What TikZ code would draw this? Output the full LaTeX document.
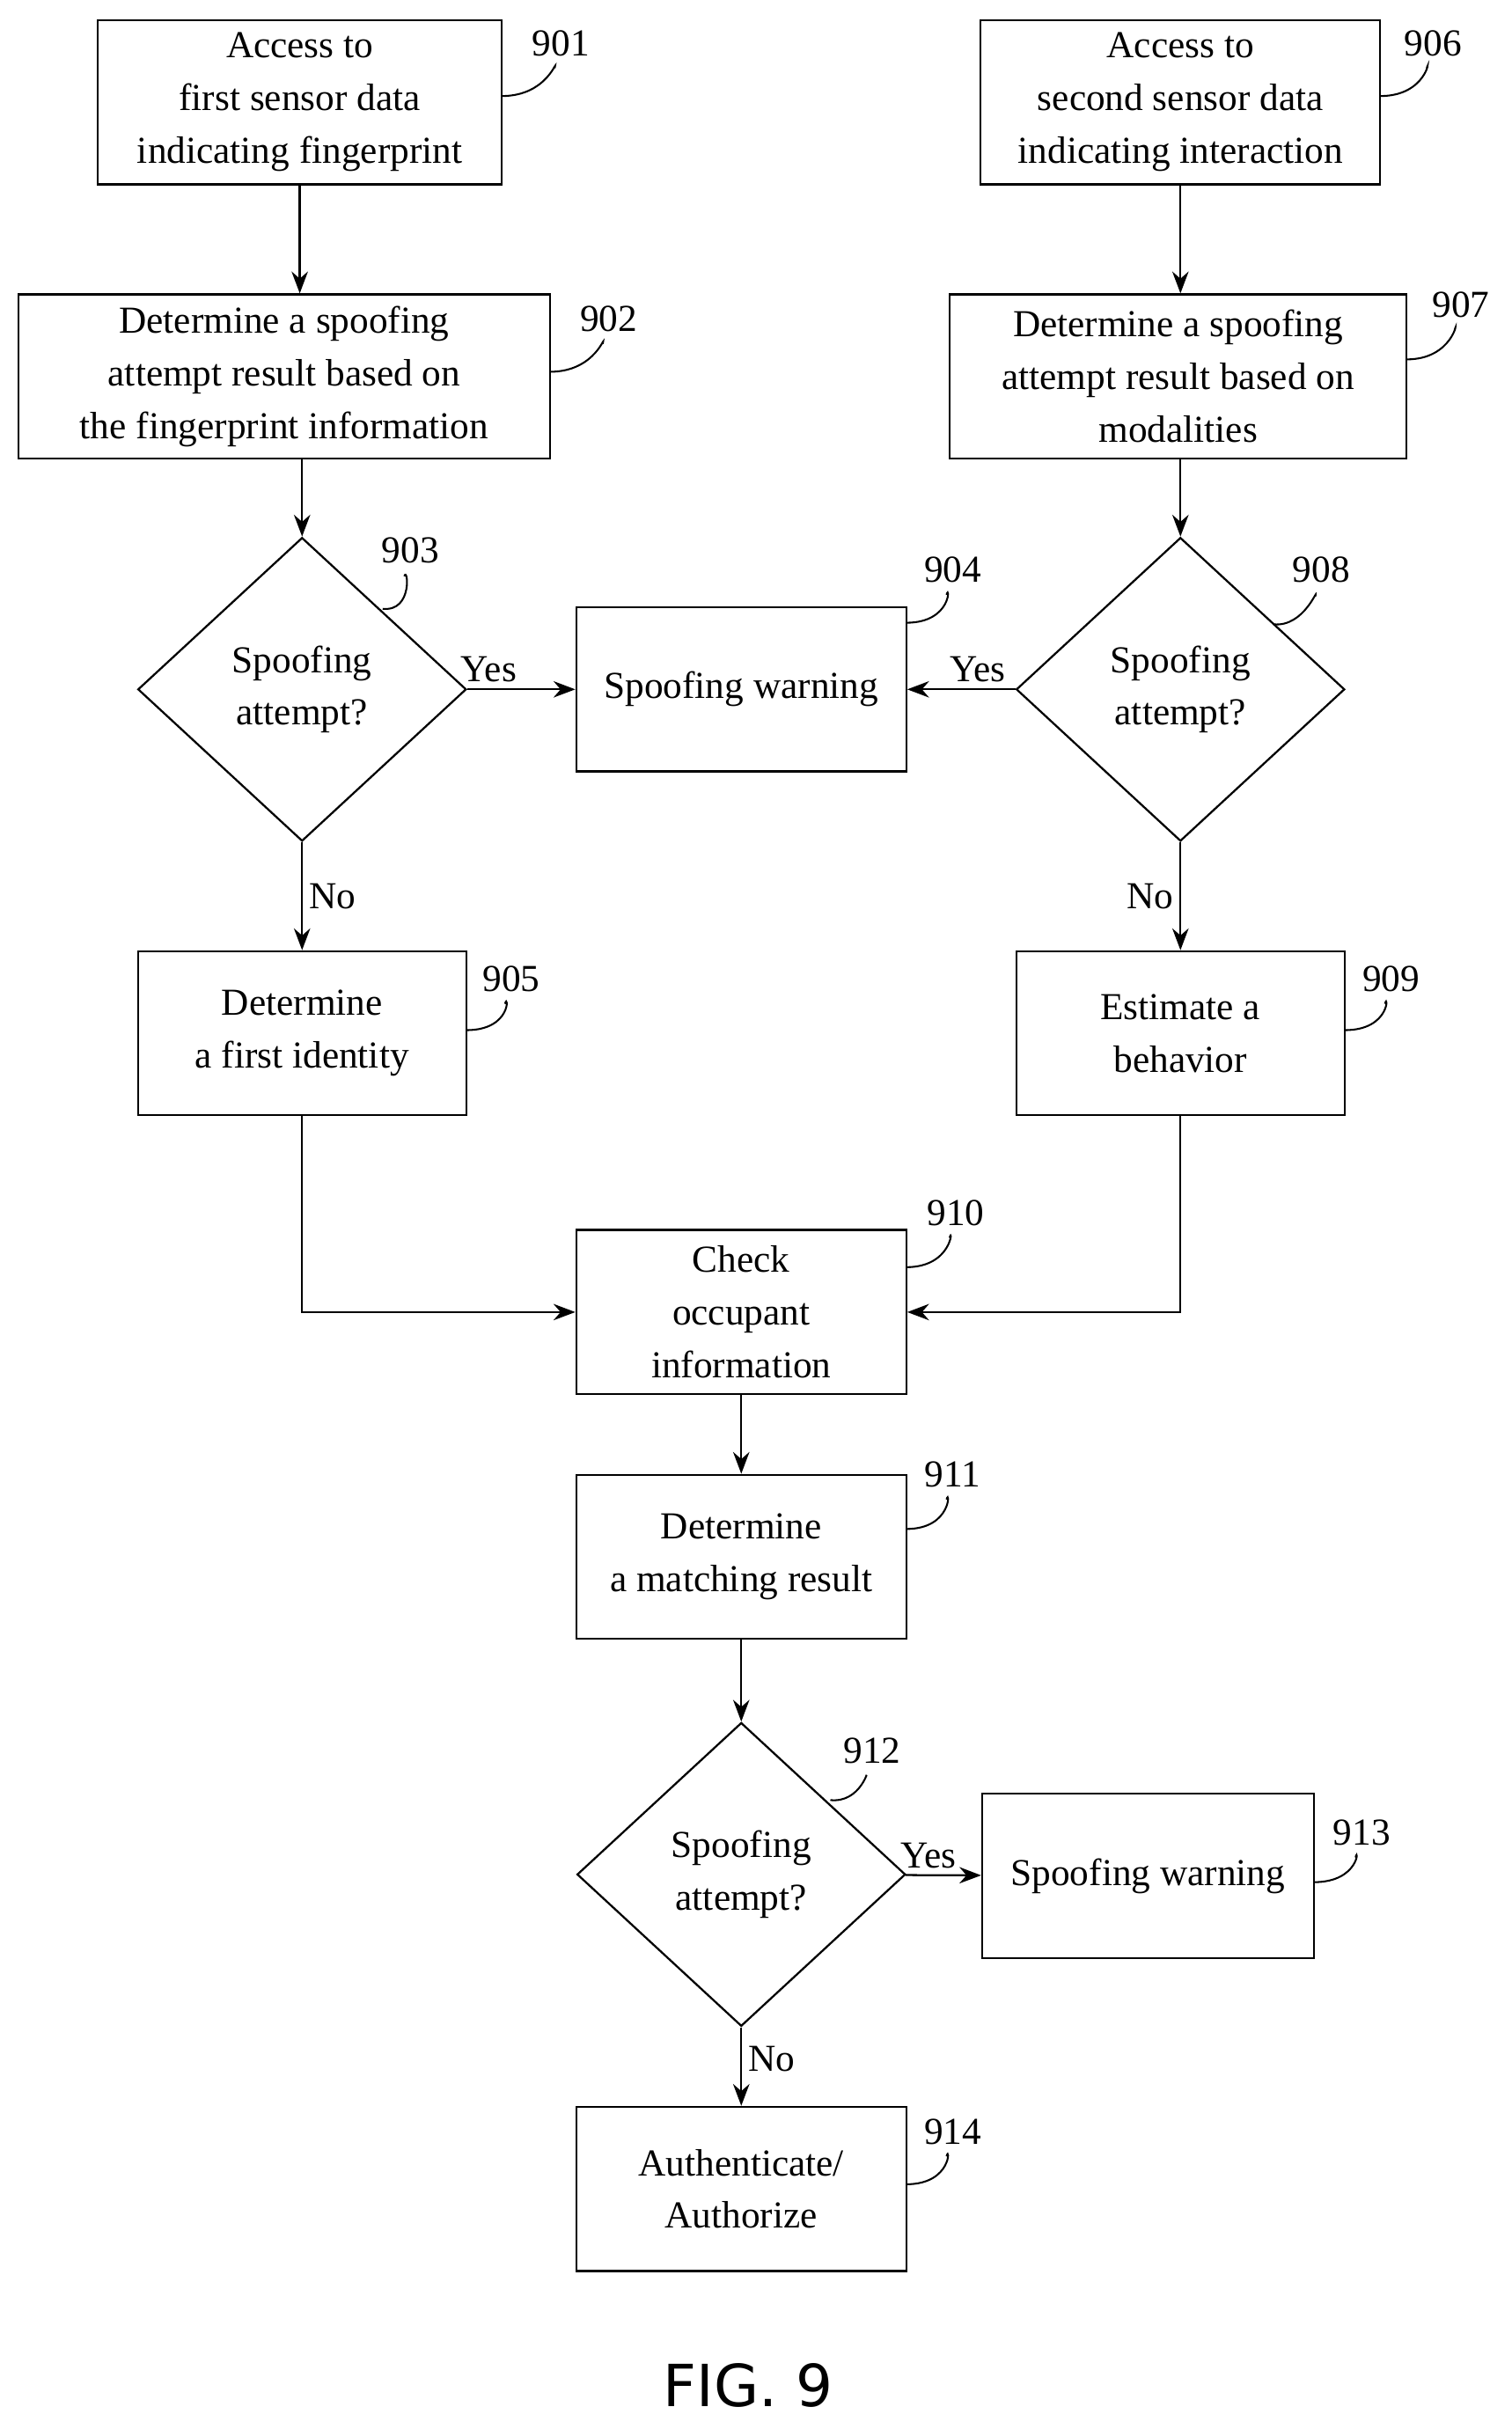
\documentclass[tikz,border=0pt]{standalone}
\usepackage{fontspec}
\setmainfont{Liberation Serif}
\setsansfont{DejaVu Sans}
\usetikzlibrary{shapes.geometric,arrows.meta}
\begin{document}
\begin{tikzpicture}[x=0.03cm,y=-0.03cm,
  box/.style = {shape=rectangle, draw, line width=1.1pt, align=center,
    minimum height=106*0.03cm, inner sep=2pt,
    font=\fontsize{21}{29}\selectfont},
  dec/.style = {shape=diamond, draw, line width=1.1pt, align=center,
    minimum width=212*0.03cm, minimum height=196*0.03cm, aspect=1.08, inner sep=0pt,
    font=\fontsize{21}{29}\selectfont},
  lbl/.style = {font=\fontsize{21}{25}\selectfont},
  flow/.style = {line width=1.1pt, -{Stealth[length=12pt,width=9pt]}},
  lead/.style = {line width=1pt}]
  \useasboundingbox (0,0) rectangle (976,1568);
  % left column
  \node[box, minimum width=261*0.03cm] (s1) at (193.5,66) {Access to\\first sensor data\\indicating fingerprint};
  \node[box, minimum width=343*0.03cm] (d1) at (183.5,243) {Determine a spoofing\\attempt result based on\\the fingerprint information};
  \node[dec] (q1) at (195,445) {Spoofing\\attempt?};
  \node[box, minimum width=212*0.03cm] (id) at (195,667) {Determine\\a first identity};
  % right column
  \node[box, minimum width=258*0.03cm] (s2) at (762,66) {Access to\\second sensor data\\indicating interaction};
  \node[box, minimum width=295*0.03cm] (d2) at (760.5,243) {Determine a spoofing\\attempt result based on\\modalities};
  \node[dec] (q2) at (762,445) {Spoofing\\attempt?};
  \node[box, minimum width=212*0.03cm] (bh) at (762,667) {Estimate a\\behavior};
  % middle column
  \node[box, minimum width=213*0.03cm] (w1) at (478.5,445) {Spoofing warning};
  \node[box, minimum width=213*0.03cm] (chk) at (478.5,847) {Check\\occupant\\information};
  \node[box, minimum width=213*0.03cm] (mt) at (478.5,1005) {Determine\\a matching result};
  \node[dec] (q3) at (478.5,1210) {Spoofing\\attempt?};
  \node[box, minimum width=214*0.03cm] (w2) at (741,1211) {Spoofing warning};
  \node[box, minimum width=213*0.03cm] (auth) at (478.5,1413) {Authenticate/\\Authorize};
  % connectors
  \draw[flow] (s1) -- (d1.north -| s1);
  \draw[flow] (d1.south -| q1) -- (q1);
  \draw[flow] (q1) -- node[lbl, above, pos=0.2] {Yes} (w1);
  \draw[flow] (q1) -- node[lbl, right, pos=0.5] {No} (id);
  \draw[flow] (s2) -- (d2.north -| s2);
  \draw[flow] (d2.south -| q2) -- (q2);
  \draw[flow] (q2) -- node[lbl, above, pos=0.35] {Yes} (w1);
  \draw[flow] (q2) -- node[lbl, left, pos=0.5] {No} (bh);
  \draw[flow] (id) |- (chk);
  \draw[flow] (bh) |- (chk);
  \draw[flow] (chk) -- (mt);
  \draw[flow] (mt) -- (q3);
  \draw[flow] (q3) -- node[lbl, above, pos=0.3] {Yes} (w2);
  \draw[flow] (q3) -- node[lbl, right, pos=0.4] {No} (auth);
  % reference numerals
  \foreach \n/\bx/\by/\lx/\ly in {901/324/62/362/28, 902/355/240/393/206, 906/891/62/925/28,
      907/908/232/943/197, 904/585/402/615/368, 905/301/665/330/632, 909/868/665/898/632,
      910/585/818/617/783, 911/585/987/615/952, 913/848/1215/879/1183, 914/585/1410/615/1376}{
    \node[lbl] (n\n) at (\lx,\ly) {\n};
    \draw[lead] (\bx,\by) .. controls (\bx+30,\by) and (\lx-2,\ly+8) .. (\lx-4,\ly+16);
  }
  \foreach \n/\bx/\by/\lx/\ly in {903/247/393/265/355, 908/822/403/853/368, 912/536/1162/563/1130}{
    \node[lbl] (n\n) at (\lx,\ly) {\n};
    \draw[lead] (\bx,\by) .. controls (\bx+20,\by+2) and (\lx-2,\ly+10) .. (\lx-4,\ly+17);
  }
  \node[font=\sffamily\fontsize{32}{38}\selectfont] (fig) at (483,1540) {FIG. 9};
\end{tikzpicture}
\end{document}
